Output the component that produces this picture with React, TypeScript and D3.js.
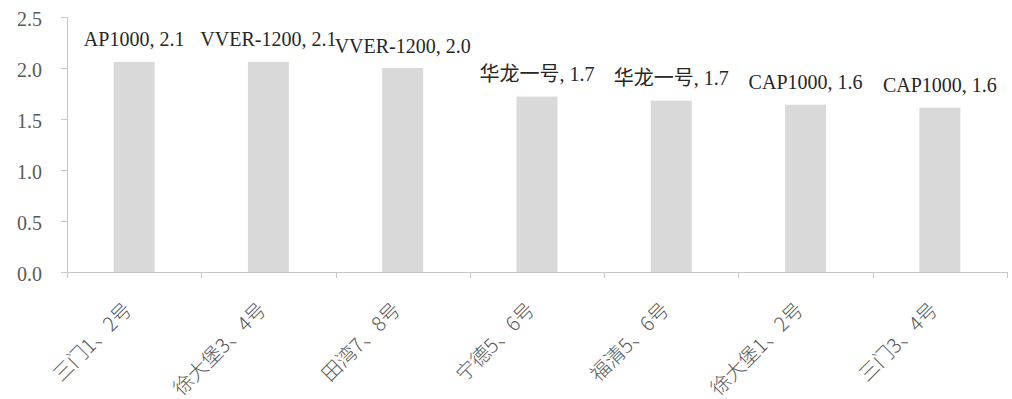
import React, { useEffect, useRef } from "react";
import * as d3 from "d3";

// Units (categories along the x axis)
const units: string[] = [
  "三门1、2号",
  "徐大堡3、4号",
  "田湾7、8号",
  "宁德5、6号",
  "福清5、6号",
  "徐大堡1、2号",
  "三门3、4号",
];

// Reactor model for each unit
const models: string[] = [
  "AP1000",
  "VVER-1200",
  "VVER-1200",
  "华龙一号",
  "华龙一号",
  "CAP1000",
  "CAP1000",
];

// Value per unit
const values: number[] = [2.06, 2.06, 2.0, 1.72, 1.68, 1.64, 1.61];

// Y axis ticks
const yTicks: number[] = [0, 0.5, 1.0, 1.5, 2.0, 2.5];

const WIDTH = 1012;
const HEIGHT = 399;
const X0 = 67;
const X1 = 1007;
const Y0 = 272;
const Y1 = 17;

const SERIF = "'Liberation Serif', 'Times New Roman', 'Noto Sans CJK SC', serif";
const SANS_CJK = "'Noto Sans CJK SC', 'Noto Sans', sans-serif";

export default function App() {
  const ref = useRef<SVGSVGElement | null>(null);

  useEffect(() => {
    const svg = d3.select(ref.current);
    svg.selectAll("*").remove();

    const x = d3
      .scaleBand<string>()
      .domain(units)
      .range([X0, X1])
      .paddingInner(0.695)
      .paddingOuter(0.3475);

    const y = d3.scaleLinear().domain([0, 2.5]).range([Y0, Y1]);
    const fmt = d3.format(".1f");
    const axisColor = "#c8c8c8";

    // Y axis line and ticks
    svg
      .append("line")
      .attr("x1", X0 + 0.5)
      .attr("x2", X0 + 0.5)
      .attr("y1", y(2.5))
      .attr("y2", Y0)
      .attr("stroke", axisColor);

    const yg = svg.append("g");
    yTicks.forEach((t) => {
      const ty = Math.round(y(t)) + 0.5;
      yg.append("line")
        .attr("x1", X0 - 6)
        .attr("x2", X0)
        .attr("y1", ty)
        .attr("y2", ty)
        .attr("stroke", axisColor);
      yg.append("text")
        .attr("x", 42)
        .attr("y", ty)
        .attr("dy", "0.4em")
        .attr("text-anchor", "end")
        .attr("font-family", SERIF)
        .attr("font-size", 20)
        .attr("fill", "#595959")
        .text(fmt(t));
    });

    // Bars
    svg
      .append("g")
      .selectAll("rect")
      .data(values)
      .join("rect")
      .attr("x", (_d, i) => x(units[i]) as number)
      .attr("width", x.bandwidth())
      .attr("y", (d) => y(d))
      .attr("height", (d) => Y0 - y(d))
      .attr("fill", "#d9d9d9");

    // X axis line and category boundary ticks
    svg
      .append("line")
      .attr("x1", X0 - 6)
      .attr("x2", X1)
      .attr("y1", Y0 + 0.5)
      .attr("y2", Y0 + 0.5)
      .attr("stroke", axisColor);

    const step = x.step();
    for (let i = 0; i <= units.length; i++) {
      const tx = Math.round(X0 + i * step) + 0.5;
      svg
        .append("line")
        .attr("x1", tx)
        .attr("x2", tx)
        .attr("y1", Y0)
        .attr("y2", Y0 + 6)
        .attr("stroke", axisColor);
    }

    // Rotated category labels
    svg
      .append("g")
      .selectAll("text")
      .data(units)
      .join("text")
      .attr("transform", (d) => {
        const cx = (x(d) as number) + x.bandwidth() / 2 - 7;
        return `translate(${cx},${Y0 + 33}) rotate(-45)`;
      })
      .attr("text-anchor", "end")
      .attr("dominant-baseline", "central")
      .attr("font-family", SANS_CJK)
      .attr("font-size", 20)
      .attr("font-weight", 300)
      .attr("fill", "#595959")
      .text((d) => d);

    // Data labels: model name and value
    svg
      .append("g")
      .selectAll("text")
      .data(values)
      .join("text")
      .attr("x", (_d, i) => (x(units[i]) as number) + x.bandwidth() / 2)
      .attr("y", (d) => y(d) - 15.5)
      .attr("text-anchor", "middle")
      .attr("font-family", SERIF)
      .attr("font-size", 20)
      .attr("fill", "#262626")
      .text((d, i) => `${models[i]}, ${fmt(d)}`);
  }, []);

  return (
    <svg
      ref={ref}
      width={WIDTH}
      height={HEIGHT}
      style={{ position: "absolute", left: 0, top: 0, background: "#ffffff" }}
    />
  );
}
